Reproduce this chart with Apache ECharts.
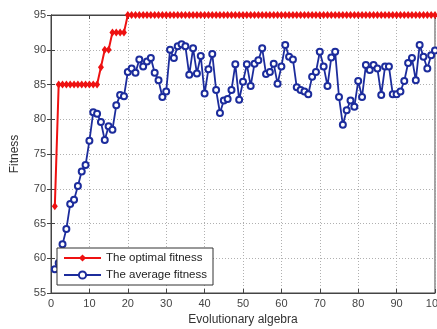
<!DOCTYPE html>
<html>
<head>
    <meta charset="utf-8">
    <script src="https://cdn.jsdelivr.net/npm/echarts@6/dist/echarts.min.js"></script>
    <style>
        html, body { margin: 0; padding: 0; background: #fff; }
    </style>
</head>
<body>
    <div id="main" style="width: 437px;height:329px;"></div>
    <script type="text/javascript">
        // data, one value per generation (1..100)
        var optimalFitness = [
            67.5, 85, 85, 85, 85, 85, 85, 85, 85, 85,
            85, 85, 87.5, 90, 90, 92.5, 92.5, 92.5, 92.5, 95,
            95, 95, 95, 95, 95, 95, 95, 95, 95, 95,
            95, 95, 95, 95, 95, 95, 95, 95, 95, 95,
            95, 95, 95, 95, 95, 95, 95, 95, 95, 95,
            95, 95, 95, 95, 95, 95, 95, 95, 95, 95,
            95, 95, 95, 95, 95, 95, 95, 95, 95, 95,
            95, 95, 95, 95, 95, 95, 95, 95, 95, 95,
            95, 95, 95, 95, 95, 95, 95, 95, 95, 95,
            95, 95, 95, 95, 95, 95, 95, 95, 95, 95
        ];
        var averageFitness = [
            58.4, 59.3, 62.0, 64.2, 67.8, 68.4, 70.4, 72.5, 73.4, 76.9,
            81.0, 80.8, 79.6, 77.0, 79.0, 78.5, 82.0, 83.5, 83.3, 86.8,
            87.3, 86.7, 88.6, 87.6, 88.3, 88.8, 86.7, 85.6, 83.2, 84.0,
            90.0, 88.8, 90.5, 90.8, 90.5, 86.4, 90.2, 86.6, 89.1, 83.7,
            87.2, 89.4, 84.2, 80.9, 82.7, 82.9, 84.2, 87.9, 82.8, 85.4,
            87.9, 84.8, 88.0, 88.5, 90.2, 86.5, 86.8, 88.0, 85.1, 87.6,
            90.7, 89.0, 88.6, 84.6, 84.2, 84.0, 83.6, 86.1, 86.8, 89.7,
            87.6, 84.8, 88.9, 89.7, 83.2, 79.2, 81.3, 82.7, 81.8, 85.5,
            83.2, 87.8, 87.1, 87.8, 87.3, 83.5, 87.6, 87.6, 83.6, 83.6,
            84.0, 85.5, 88.1, 88.8, 85.6, 90.7, 89.0, 87.3, 89.2, 89.9
        ];
        var seriesNames = ['The optimal fitness', 'The average fitness'];

        function toPairs(arr) {
            return arr.map(function (v, i) { return [i + 1, v]; });
        }

        var font = 'Liberation Sans, Arial, sans-serif';
        var axisColor = '#444';
        var gridLine = { show: true, lineStyle: { color: '#b0b0b0', type: [1, 2], width: 1 } };

        var myChart = echarts.init(document.getElementById('main'));
        var option = {
            animation: false,
            backgroundColor: '#fff',
            grid: {
                left: 51, right: 2, top: 15, bottom: 36,
                outerBoundsMode: 'none',
                containLabel: false,
                show: true, borderColor: axisColor, borderWidth: 1
            },
            legend: {
                data: seriesNames,
                orient: 'vertical',
                left: 57,
                top: 248,
                backgroundColor: '#fff',
                borderColor: '#333',
                borderWidth: 1,
                padding: [4, 6, 4, 6],
                itemGap: 5,
                itemWidth: 37,
                itemHeight: 9,
                textStyle: { fontFamily: font, fontSize: 11.5, color: '#222' }
            },
            xAxis: [{
                type: 'value',
                min: 0, max: 100, interval: 10,
                name: 'Evolutionary algebra',
                nameLocation: 'middle',
                nameGap: 21,
                nameTextStyle: { fontFamily: font, fontSize: 12, color: '#333' },
                axisLine: { show: true, lineStyle: { color: axisColor } },
                axisTick: { inside: true, length: 4, lineStyle: { color: axisColor } },
                axisLabel: { fontFamily: font, fontSize: 11, color: '#444', margin: 5 },
                splitLine: gridLine
            }, {
                type: 'value', position: 'top',
                min: 0, max: 100, interval: 10,
                axisLine: { show: true, lineStyle: { color: axisColor } },
                axisTick: { inside: true, length: 4, lineStyle: { color: axisColor } },
                axisLabel: { show: false },
                splitLine: { show: false }
            }],
            yAxis: [{
                type: 'value',
                min: 55, max: 95, interval: 5,
                name: 'Fitness',
                nameLocation: 'middle',
                nameGap: 30,
                nameTextStyle: { fontFamily: font, fontSize: 12, color: '#333' },
                axisLine: { show: true, lineStyle: { color: axisColor } },
                axisTick: { inside: true, length: 4, lineStyle: { color: axisColor } },
                axisLabel: { fontFamily: font, fontSize: 11, color: '#444', margin: 5 },
                splitLine: gridLine
            }, {
                type: 'value', position: 'right',
                min: 55, max: 95, interval: 5,
                axisLine: { show: true, lineStyle: { color: axisColor } },
                axisTick: { inside: true, length: 4, lineStyle: { color: axisColor } },
                axisLabel: { show: false },
                splitLine: { show: false }
            }],
            series: [{
                name: seriesNames[0],
                type: 'line',
                data: toPairs(optimalFitness),
                symbol: 'diamond',
                symbolSize: [6, 8],
                color: '#ee1111',
                lineStyle: { width: 2, color: '#ee1111' },
                itemStyle: { color: '#ee1111' }
            }, {
                name: seriesNames[1],
                type: 'line',
                data: toPairs(averageFitness),
                symbol: 'emptyCircle',
                symbolSize: 6,
                color: '#1c2c9c',
                lineStyle: { width: 1.8, color: '#1c2c9c' },
                itemStyle: { color: '#1c2c9c', borderWidth: 1.5 }
            }]
        };
        myChart.setOption(option);
    </script>
</body>
</html>
